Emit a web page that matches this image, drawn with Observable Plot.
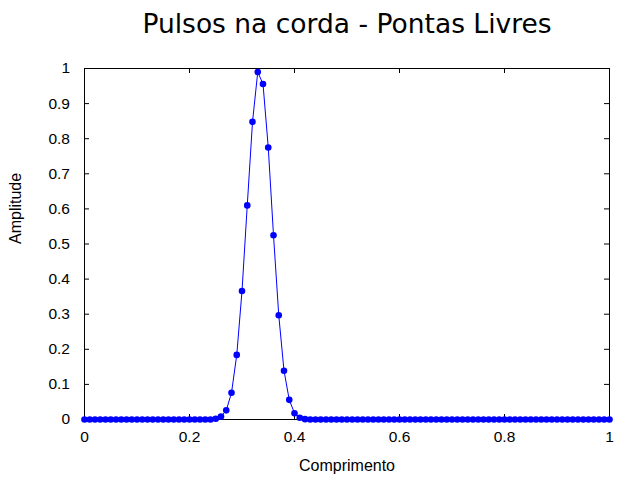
<!DOCTYPE html>
<html><head><meta charset="utf-8">
<script src="https://cdn.jsdelivr.net/npm/d3@7"></script>
<script src="https://cdn.jsdelivr.net/npm/@observablehq/plot@0.6"></script>
<style>body{margin:0;background:#fff}</style>
</head><body><div id="chart"></div>
<script>
const titleText = "Pulsos na corda - Pontas Livres";
const xLabel = "Comprimento";
const yLabel = "Amplitude";
const xTicks = [0, 0.2, 0.4, 0.6, 0.8, 1];
const yTicks = [0, 0.1, 0.2, 0.3, 0.4, 0.5, 0.6, 0.7, 0.8, 0.9, 1];
const step = 0.01;
const amplitude = [
  0, 0, 0, 0, 0, 0, 0, 0, 0, 0,
  0, 0, 0, 0, 0, 0, 0, 0, 0, 0,
  0, 0, 0, 0, 0, 0.002, 0.0085, 0.026, 0.076, 0.184,
  0.366, 0.61, 0.848, 0.99, 0.956, 0.775, 0.525, 0.297, 0.139, 0.056,
  0.018, 0.005, 0.001, 0, 0, 0, 0, 0, 0, 0,
  0, 0, 0, 0, 0, 0, 0, 0, 0, 0,
  0, 0, 0, 0, 0, 0, 0, 0, 0, 0,
  0, 0, 0, 0, 0, 0, 0, 0, 0, 0,
  0, 0, 0, 0, 0, 0, 0, 0, 0, 0,
  0, 0, 0, 0, 0, 0, 0, 0, 0, 0,
  0
];
const data = amplitude.map((a, i) => ({x: +(i * step).toFixed(2), y: a}));

const W = 640, H = 480;
const mL = 84, mR = 31, mT = 68, mB = 61;
const pw = W - mL - mR, ph = H - mT - mB;
const tick = 5;

const chart = Plot.plot({
  width: W, height: H,
  marginLeft: mL, marginRight: mR, marginTop: mT, marginBottom: mB,
  style: {fontFamily: "Liberation Sans, Arial, sans-serif", fontSize: "15.5px", background: "#fff", color: "#000"},
  x: {domain: [0, 1]},
  y: {domain: [0, 1]},
  marks: [
    Plot.frame({stroke: "#000", strokeWidth: 1}),
    Plot.tickX(xTicks, {x: d => d, insetTop: ph - tick, stroke: "#000"}),
    Plot.tickX(xTicks, {x: d => d, insetBottom: ph - tick, stroke: "#000"}),
    Plot.tickY(yTicks, {y: d => d, insetRight: pw - tick, stroke: "#000"}),
    Plot.tickY(yTicks, {y: d => d, insetLeft: pw - tick, stroke: "#000"}),
    Plot.axisX(xTicks, {tickSize: 0, tickPadding: 11.5, fontSize: 15.5, label: null, tickFormat: d => String(d)}),
    Plot.axisY(yTicks, {tickSize: 0, tickPadding: 14.5, fontSize: 15.5, label: null, tickFormat: d => String(d)}),
    Plot.line(data, {x: "x", y: "y", stroke: "#0000ff", strokeWidth: 1}),
    Plot.dot(data, {x: "x", y: "y", r: 3.3, fill: "#0000ff", stroke: "none"}),
    Plot.text([titleText], {text: d => d, frameAnchor: "top", dy: -36, lineAnchor: "bottom", fontSize: 26.5, fontFamily: "DejaVu Sans", fill: "#000"}),
    Plot.text([xLabel], {text: d => d, frameAnchor: "bottom", dy: 46, lineAnchor: "middle", fontSize: 16, fill: "#000"}),
    Plot.text([yLabel], {text: d => d, frameAnchor: "left", dx: -69, rotate: -90, lineAnchor: "middle", fontSize: 16, fill: "#000"})
  ]
});
document.getElementById("chart").appendChild(chart);
</script>
</body></html>
